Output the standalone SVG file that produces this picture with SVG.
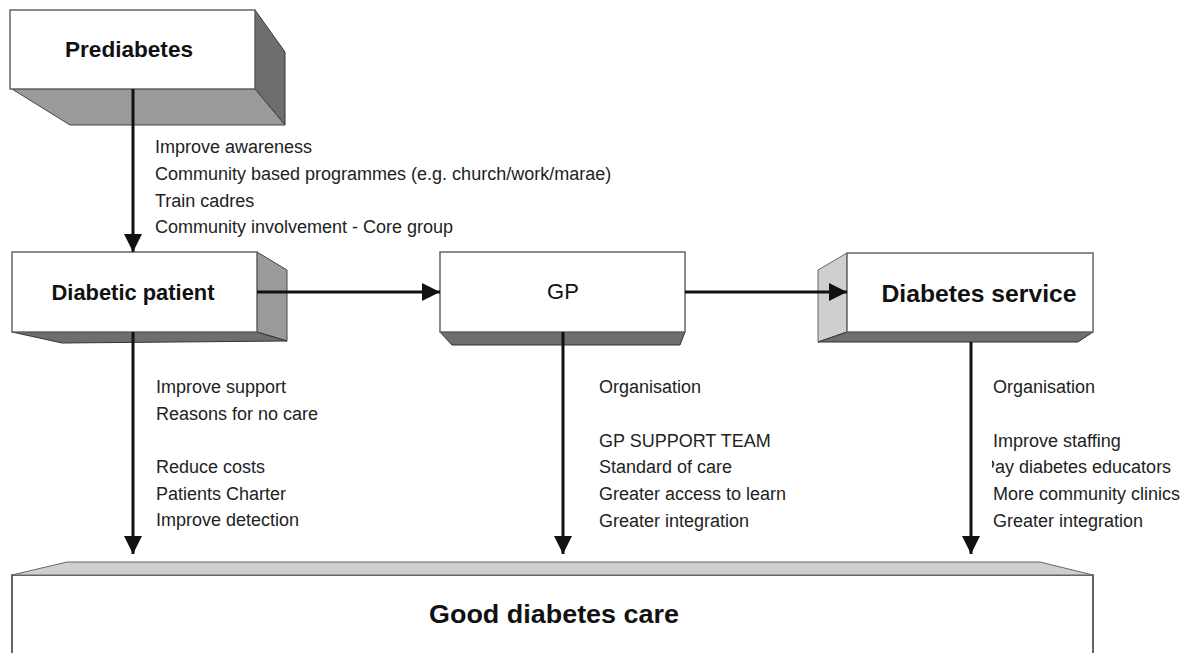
<svg xmlns="http://www.w3.org/2000/svg" width="1200" height="653" viewBox="0 0 1200 653">
<style>
.face{fill:#ffffff;stroke:#666;stroke-width:1.5}
.dark{fill:#6e6e6e;stroke:#333;stroke-width:1}
.mid{fill:#9a9a9a;stroke:#444;stroke-width:1}
.light{fill:#cfcfcf;stroke:#666;stroke-width:1}
.title{font-family:"Liberation Sans",Arial,sans-serif;font-weight:bold;fill:#111}
.note{font-family:"Liberation Sans",Arial,sans-serif;font-size:18px;fill:#222}
.conn line{stroke:#111;stroke-width:3}
</style>
<defs>
<marker id="ah" viewBox="0 0 10 10" refX="10" refY="5" markerWidth="6" markerHeight="6" markerUnits="strokeWidth" orient="auto">
<path d="M0,0 L10,5 L0,10 z" fill="#111"/>
</marker>
<clipPath id="clipR"><rect x="992" y="440" width="208" height="40"/></clipPath>
</defs>
<rect width="1200" height="653" fill="#fff"/>

<g id="prediabetes">
<polygon class="dark" points="255,10 285,52 285,125 255,89"/>
<polygon class="mid" points="12,89 255,89 285,125 70,125"/>
<rect class="face" x="10" y="10" width="245" height="79"/>
<text class="title" x="129" y="57" font-size="22" text-anchor="middle" textLength="128" lengthAdjust="spacingAndGlyphs">Prediabetes</text>
</g>

<g id="diabetic-patient">
<polygon class="mid" points="257,252 287,270 287,341 257,332"/>
<polygon class="dark" points="12,332 257,332 287,341 62,343"/>
<rect class="face" x="12" y="252" width="245" height="80"/>
<text class="title" x="133" y="300" font-size="22" text-anchor="middle" textLength="163" lengthAdjust="spacingAndGlyphs">Diabetic patient</text>
</g>

<g id="gp">
<polygon class="dark" points="440,332 685,332 680,345 452,345"/>
<rect class="face" x="440" y="252" width="245" height="80"/>
<text x="563" y="299" text-anchor="middle" font-family="Liberation Sans, Arial, sans-serif" font-size="22" fill="#111">GP</text>
</g>

<g id="diabetes-service">
<polygon class="light" points="818,270 847,253 847,332 818,342"/>
<polygon class="dark" points="818,342 847,332 1093,332 1078,342"/>
<rect class="face" x="847" y="253" width="246" height="79"/>
<text class="title" x="979" y="302" font-size="24" text-anchor="middle" textLength="195" lengthAdjust="spacingAndGlyphs">Diabetes service</text>
</g>

<g id="good-diabetes-care">
<rect x="12" y="575" width="1081" height="90" fill="#fff" stroke="#333" stroke-width="1.5"/>
<polygon class="light" points="12,575 67,562 1040,562 1093,575"/>
<text class="title" x="554" y="623" font-size="25" text-anchor="middle" textLength="250" lengthAdjust="spacingAndGlyphs">Good diabetes care</text>
</g>

<g id="labels" class="note">
<text x="155" y="153">Improve awareness</text>
<text x="155" y="180">Community based programmes (e.g. church/work/marae)</text>
<text x="155" y="207">Train cadres</text>
<text x="155" y="233">Community involvement - Core group</text>

<text x="156" y="393">Improve support</text>
<text x="156" y="420">Reasons for no care</text>
<text x="156" y="473">Reduce costs</text>
<text x="156" y="500">Patients Charter</text>
<text x="156" y="526">Improve detection</text>

<text x="599" y="393">Organisation</text>
<text x="599" y="447">GP SUPPORT TEAM</text>
<text x="599" y="473">Standard of care</text>
<text x="599" y="500">Greater access to learn</text>
<text x="599" y="527">Greater integration</text>

<text x="993" y="393">Organisation</text>
<text x="993" y="447">Improve staffing</text>
<text x="983" y="473" clip-path="url(#clipR)">Pay diabetes educators</text>
<text x="993" y="500">More community clinics</text>
<text x="993" y="527">Greater integration</text>
</g>

<g id="connectors" class="conn">
<line x1="133" y1="89" x2="133" y2="252" marker-end="url(#ah)"/>
<line x1="257" y1="292" x2="440" y2="292" marker-end="url(#ah)"/>
<line x1="685" y1="292" x2="847" y2="292" marker-end="url(#ah)"/>
<line x1="133" y1="332" x2="133" y2="554" marker-end="url(#ah)"/>
<line x1="563" y1="332" x2="563" y2="554" marker-end="url(#ah)"/>
<line x1="971" y1="342" x2="971" y2="554" marker-end="url(#ah)"/>
</g>
</svg>
